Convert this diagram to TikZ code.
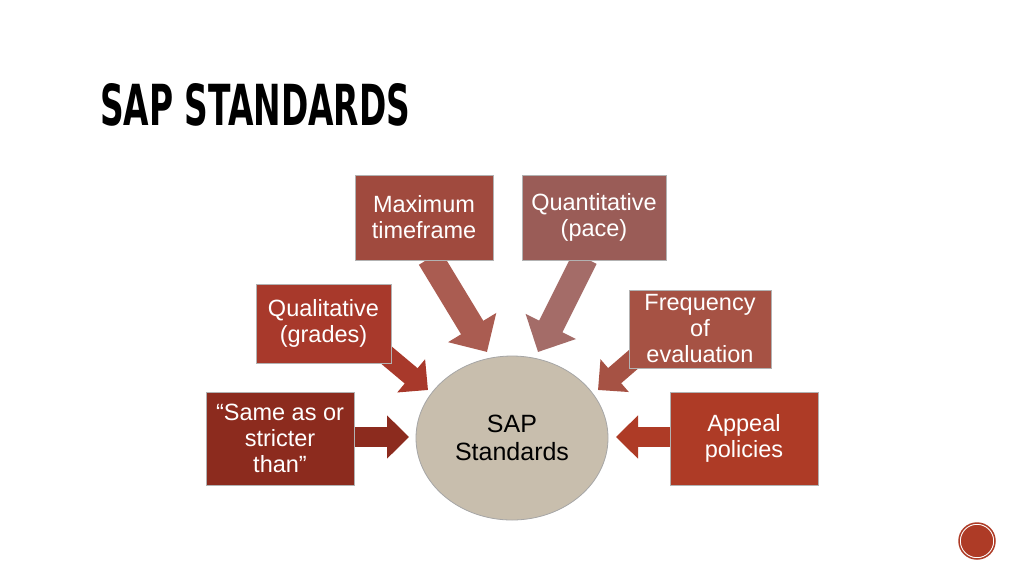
\documentclass[tikz,border=0pt]{standalone}
\usepackage{fontspec}
\setmainfont{Liberation Sans}
\newfontfamily\titlefont{DejaVu Sans Condensed}
\usetikzlibrary{arrows.meta,shapes.geometric}
\definecolor{cA}{HTML}{A04A3E}
\definecolor{cB}{HTML}{9A5C57}
\definecolor{cC}{HTML}{A8392B}
\definecolor{cD}{HTML}{A65244}
\definecolor{cE}{HTML}{8C2B1E}
\definecolor{cF}{HTML}{AE3B26}
\definecolor{circ}{HTML}{C8BEAD}
\begin{document}
\begin{tikzpicture}[x=1pt,y=-1pt,
  box/.style={draw=gray!60,line width=0.6pt,text=white,align=center,font=\fontsize{23.5}{26}\selectfont,inner sep=0pt},
  blk/.style={line width=#1,-{Triangle[width=2.1*#1 0,length=1.1*#1 0]}},
]
\useasboundingbox[fill=white] (0,0) rectangle (1024,576);
\node[anchor=west,inner sep=0pt] (title) at (100,105) {\resizebox{310pt}{42pt}{\titlefont\bfseries SAP STANDARDS}};
% arrows
\coordinate (a1) at (430,258); \coordinate (b1) at (487,352);
\coordinate (a2) at (585,258); \coordinate (b2) at (538,352);
\coordinate (a3) at (372,343); \coordinate (b3) at (428,390);
\coordinate (a4) at (642,352); \coordinate (b4) at (598,390);
\coordinate (a5) at (352,437); \coordinate (b5) at (409,437);
\coordinate (a6) at (672,437); \coordinate (b6) at (616,437);
\draw[blk=26pt,cA!90] (a1) -- (b1);
\draw[blk=26pt,cB!90] (a2) -- (b2);
\draw[blk=20pt,cC] (a3) -- (b3);
\draw[blk=20pt,cD] (a4) -- (b4);
\draw[blk=20pt,cE] (a5) -- (b5);
\draw[blk=20pt,cF] (a6) -- (b6);
% boxes
\node[box,fill=cA,minimum width=138pt,minimum height=85pt] (max) at (424,217.5) {Maximum\\timeframe};
\node[box,fill=cB,minimum width=144pt,minimum height=85pt] (qua) at (594,217.5) {Quantitative\\(pace)};
\node[box,fill=cC,minimum width=135pt,minimum height=79pt] (ql) at (323.5,323.5) {Qualitative\\(grades)};
\node[box,fill=cD,minimum width=142pt,minimum height=78pt] (fr) at (700,329) {Frequency\\of\\evaluation};
\node[box,fill=cE,minimum width=148pt,minimum height=93pt] (same) at (280,438.5) {“Same as or\\stricter\\than”};
\node[box,fill=cF,minimum width=148pt,minimum height=93pt] (app) at (744,438.5) {Appeal\\policies};
\node[ellipse,draw=gray!70,line width=0.8pt,fill=circ,minimum width=192pt,minimum height=164pt,font=\fontsize{25}{28}\selectfont,align=center] (sap) at (512,438) {SAP\\Standards};
\node[circle,fill=cF,draw=white,double=cF,double distance=1.5pt,line width=1pt,minimum size=36pt] (pg) at (977,541) {};
\end{tikzpicture}
\end{document}
